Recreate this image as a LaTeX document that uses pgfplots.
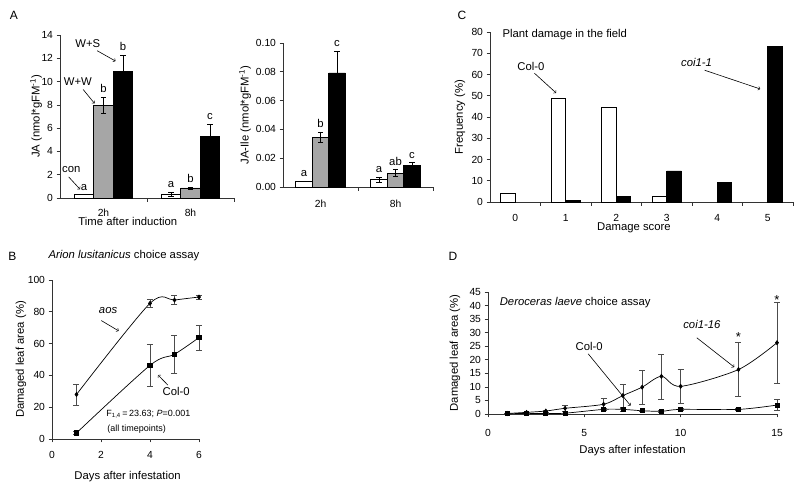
\documentclass[border=0pt]{standalone}
\usepackage{pgfplots}
\pgfplotsset{compat=1.18}
\usepackage{fontspec}
\setmainfont{Liberation Sans}
\tikzset{
  ann/.style={font=\fontsize{11.3}{13}\selectfont},
  arr/.style={->, line width=0.6pt},
}
\pgfplotsset{
  base/.style={scale only axis, anchor=south west, axis lines*=left, clip=false,
    tick align=outside, major tick length=3.5pt, minor tick length=4pt,
    axis line style={black!80, line width=0.6pt},
    every tick/.style={black!80, line width=0.6pt},
    tick label style={font=\fontsize{10.3}{12}\selectfont},
    label style={font=\fontsize{11.3}{13}\selectfont},
    /pgf/number format/assume math mode=true,
  },
  barerr/.style={error bars/.cd, y dir=both, y explicit,
    error bar style={black, line width=0.6pt},
    error mark options={rotate=90, mark size=2.6pt, black, line width=0.6pt}},
  lineerr/.style={error bars/.cd, y dir=both, y explicit,
    error bar style={black!70, line width=0.5pt},
    error mark options={rotate=90, mark size=3pt, black!70, line width=0.5pt}},
}
\begin{document}
\begin{tikzpicture}
\useasboundingbox (0,0) rectangle (800pt,489pt);
% Panel letters
\node[font=\fontsize{12}{14}\selectfont] at (14pt,474pt) {A};
\node[font=\fontsize{12}{14}\selectfont] at (12.5pt,233pt) {B};
\node[font=\fontsize{12}{14}\selectfont] at (462pt,473.5pt) {C};
\node[font=\fontsize{12}{14}\selectfont] at (453pt,233pt) {D};

% ---------------- Panel A left: JA
\begin{axis}[base, at={(60pt,291pt)}, width=174pt, height=163pt,
  ymin=0, ymax=14, ytick={0,2,...,14},
  xmin=-0.5, xmax=1.5, xtick={0,1}, xticklabels={2h,8h},
  minor xtick={0.5,1.5}, major x tick style={draw=none},
  xticklabel shift=4pt,
  ybar=0pt, bar width=19.5pt,
  ylabel={JA (nmol*gFM\textsuperscript{-1})},
  ylabel style={at={(axis description cs:-0.138,0.5)}, anchor=center},
  xlabel={Time after induction},
  xlabel style={at={(axis description cs:0.39,-0.147)}, anchor=center},
]
\addplot[fill=white, draw=black, line width=0.6pt, barerr] coordinates {(0,0.29) +- (0,0) (1,0.32) +- (0,0.17)};
\addplot[fill=black!35, draw=black, line width=0.6pt, barerr] coordinates {(0,7.95) +- (0,0.69) (1,0.86) +- (0,0.08)};
\addplot[fill=black, draw=black, line width=0.6pt, barerr] coordinates {(0,10.84) +- (0,1.38) (1,5.31) +- (0,1.03)};
\node[ann, anchor=south] at (axis cs:-0.224,0.35) {a};
\node[ann, anchor=south] at (axis cs:0,8.75) {b};
\node[ann, anchor=south] at (axis cs:0.224,12.35) {b};
\node[ann, anchor=south] at (axis cs:0.776,0.55) {a};
\node[ann, anchor=south] at (axis cs:1,1.05) {b};
\node[ann, anchor=south] at (axis cs:1.224,6.45) {c};
\node[ann] at (axis cs:-0.37,2.47) {con};
\draw[arr] (axis cs:-0.40,1.81) -- (axis cs:-0.27,0.75);
\node[ann] at (axis cs:-0.295,10.0) {W+W};
\draw[arr] (axis cs:-0.234,9.32) -- (axis cs:-0.103,8.12);
\node[ann] at (axis cs:-0.18,13.28) {W+S};
\draw[arr] (axis cs:-0.073,12.65) -- (axis cs:0.138,11.76);
\end{axis}

% ---------------- Panel A right: JA-Ile
\begin{axis}[base, at={(283pt,302pt)}, width=150pt, height=144pt,
  ymin=0, ymax=0.1, ytick={0,0.02,0.04,0.06,0.08,0.1}, scaled y ticks=false,
  yticklabel style={/pgf/number format/.cd, fixed, fixed zerofill, precision=2},
  xmin=-0.5, xmax=1.5, xtick={0,1}, xticklabels={2h,8h},
  minor xtick={0.5,1.5}, major x tick style={draw=none},
  xticklabel shift=6pt,
  ybar=0pt, bar width=16.5pt,
  ylabel={JA-Ile (nmol*gFM\textsuperscript{-1})},
  ylabel style={at={(axis description cs:-0.253,0.5)}, anchor=center},
]
\addplot[fill=white, draw=black, line width=0.6pt, barerr] coordinates {(0,0.0039) +- (0,0) (1,0.0051) +- (0,0.0018)};
\addplot[fill=black!35, draw=black, line width=0.6pt, barerr] coordinates {(0,0.0347) +- (0,0.0035) (1,0.0097) +- (0,0.0023)};
\addplot[fill=black, draw=black, line width=0.6pt, barerr] coordinates {(0,0.0792) +- (0,0.015) (1,0.015) +- (0,0.002)};
\node[ann, anchor=south] at (axis cs:-0.22,0.0045) {a};
\node[ann, anchor=south] at (axis cs:0,0.0387) {b};
\node[ann, anchor=south] at (axis cs:0.22,0.0947) {c};
\node[ann, anchor=south] at (axis cs:0.78,0.0074) {a};
\node[ann, anchor=south] at (axis cs:1,0.0125) {ab};
\node[ann, anchor=south] at (axis cs:1.22,0.0176) {c};
\end{axis}

% ---------------- Panel C
\begin{axis}[base, at={(490pt,287pt)}, width=303pt, height=170pt,
  ymin=0, ymax=80, ytick={0,10,...,80},
  xmin=-0.5, xmax=5.5, xtick={0,...,5},
  minor xtick={0.5,1.5,2.5,3.5,4.5,5.5}, major x tick style={draw=none},
  xticklabel shift=5pt,
  ybar=0pt, bar width=14.5pt,
  ylabel={Frequency (\%)},
  ylabel style={at={(axis description cs:-0.099,0.5)}, anchor=center},
  xlabel={Damage score},
  xlabel style={at={(axis description cs:0.475,-0.153)}, anchor=center},
]
\addplot[fill=white, draw=black, line width=0.6pt] coordinates {(0,4.2) (1,48.8) (2,44.5) (3,2.5)};
\addplot[fill=black, draw=black, line width=0.6pt] coordinates {(1,0.8) (2,2.5) (3,14.6) (4,9.4) (5,73.3)};
\node[ann, anchor=west] at (axis cs:-0.32,78.7) {Plant damage in the field};
\node[ann] at (axis cs:0.31,63.8) {Col-0};
\draw[arr] (axis cs:0.38,60.6) -- (axis cs:0.81,51.3);
\node[ann] at (axis cs:3.59,65.7) {\textit{coi1-1}};
\draw[arr] (axis cs:3.75,62) -- (axis cs:4.85,53.2);
\end{axis}

% ---------------- Panel B
\node[ann, anchor=west] at (45pt,233pt) {\textit{Arion lusitanicus} choice assay};
\begin{axis}[base, at={(52pt,50pt)}, width=147pt, height=159pt,
  xmin=0, xmax=6, ymin=0, ymax=100, xtick={0,2,4,6}, ytick={0,20,...,100},
  xticklabel shift=5pt,
  ylabel={Damaged leaf area (\%)},
  ylabel style={at={(axis description cs:-0.211,0.5)}, anchor=center},
  xlabel={Days after infestation},
  xlabel style={at={(axis description cs:0.514,-0.239)}, anchor=center},
]
\addplot[black, line width=0.7pt, smooth, tension=0.5, mark=diamond*, mark size=2pt, mark options={solid}, lineerr]
  coordinates {(1,28) +- (0,6.6) (4,85.3) +- (0,2.7) (5,87.4) +- (0,2.7) (6,89.3) +- (0,1.3)};
\addplot[black, line width=0.7pt, smooth, tension=0.5, mark=square*, mark size=2.2pt, mark options={solid}, lineerr]
  coordinates {(1,3.8) +- (0,1) (4,46.3) +- (0,13) (5,53.3) +- (0,12.2) (6,63.8) +- (0,8)};
\node[ann] at (axis cs:2.29,80.6) {\textit{aos}};
\draw[arr] (axis cs:2.01,74.5) -- (axis cs:2.72,68);
\node[ann] at (axis cs:5.07,30.1) {Col-0};
\draw[arr] (axis cs:4.73,33.9) -- (axis cs:4.33,40.2);
\node[font=\fontsize{9}{11}\selectfont, anchor=west] at (axis cs:2.08,15.4) {F\textsubscript{1,4}\,=\,23.63; \textit{P}=0.001};
\node[font=\fontsize{9}{11}\selectfont, anchor=west] at (axis cs:2.12,5.9) {(all timepoints)};
\end{axis}

% ---------------- Panel D
\begin{axis}[base, at={(488pt,75pt)}, width=289pt, height=122pt,
  xmin=0, xmax=15, ymin=0, ymax=45, xtick={0,5,10,15}, ytick={0,5,...,45},
  ylabel={Damaged leaf area (\%)},
  ylabel style={at={(axis description cs:-0.114,0.5)}, anchor=center},
  xlabel={Days after infestation},
  xlabel style={at={(axis description cs:0.5,-0.303)}, anchor=center},
  xticklabel shift=8pt,
]
\addplot[black, line width=0.7pt, smooth, tension=0.5, mark=diamond*, mark size=2pt, mark options={solid}, lineerr]
  coordinates {(1,0.2) +- (0,0) (2,0.6) +- (0,0.2) (3,1.1) +- (0,0.4) (4,2.1) +- (0,1) (6,3.6) +- (0,2.2) (7,6.8) +- (0,4.3) (8,9.9) +- (0,6.2) (9,13.9) +- (0,8.3) (10,10.2) +- (0,6.3) (13,16.4) +- (0,10) (15,26.3) +- (0,14.8)};
\addplot[black, line width=0.7pt, smooth, tension=0.5, mark=square*, mark size=2pt, mark options={solid}, lineerr]
  coordinates {(1,0.1) +- (0,0) (2,0.2) +- (0,0) (3,0.2) +- (0,0) (4,0.3) +- (0,0) (6,1.7) +- (0,0.5) (7,1.7) +- (0,0.6) (8,1.2) +- (0,0.3) (9,1.0) +- (0,0.3) (10,1.7) +- (0,0.4) (13,1.7) +- (0,0.5) (15,3.3) +- (0,2)};
\node[ann, anchor=west] at (axis cs:0.43,41.0) {\textit{Deroceras laeve} choice assay};
\node[ann] at (axis cs:5.25,25) {Col-0};
\draw[arr] (axis cs:5.2,22.2) -- (axis cs:7.4,3.1);
\node[ann] at (axis cs:11.1,33) {\textit{coi1-16}};
\draw[arr] (axis cs:10.84,28.1) -- (axis cs:12.78,17.3);
\node[font=\fontsize{13}{15}\selectfont, anchor=base, yshift=-7.5pt] at (axis cs:13,29.5) {*};
\node[font=\fontsize{13}{15}\selectfont, anchor=base, yshift=-7.5pt] at (axis cs:15,43.3) {*};
\end{axis}
\end{tikzpicture}
\end{document}
